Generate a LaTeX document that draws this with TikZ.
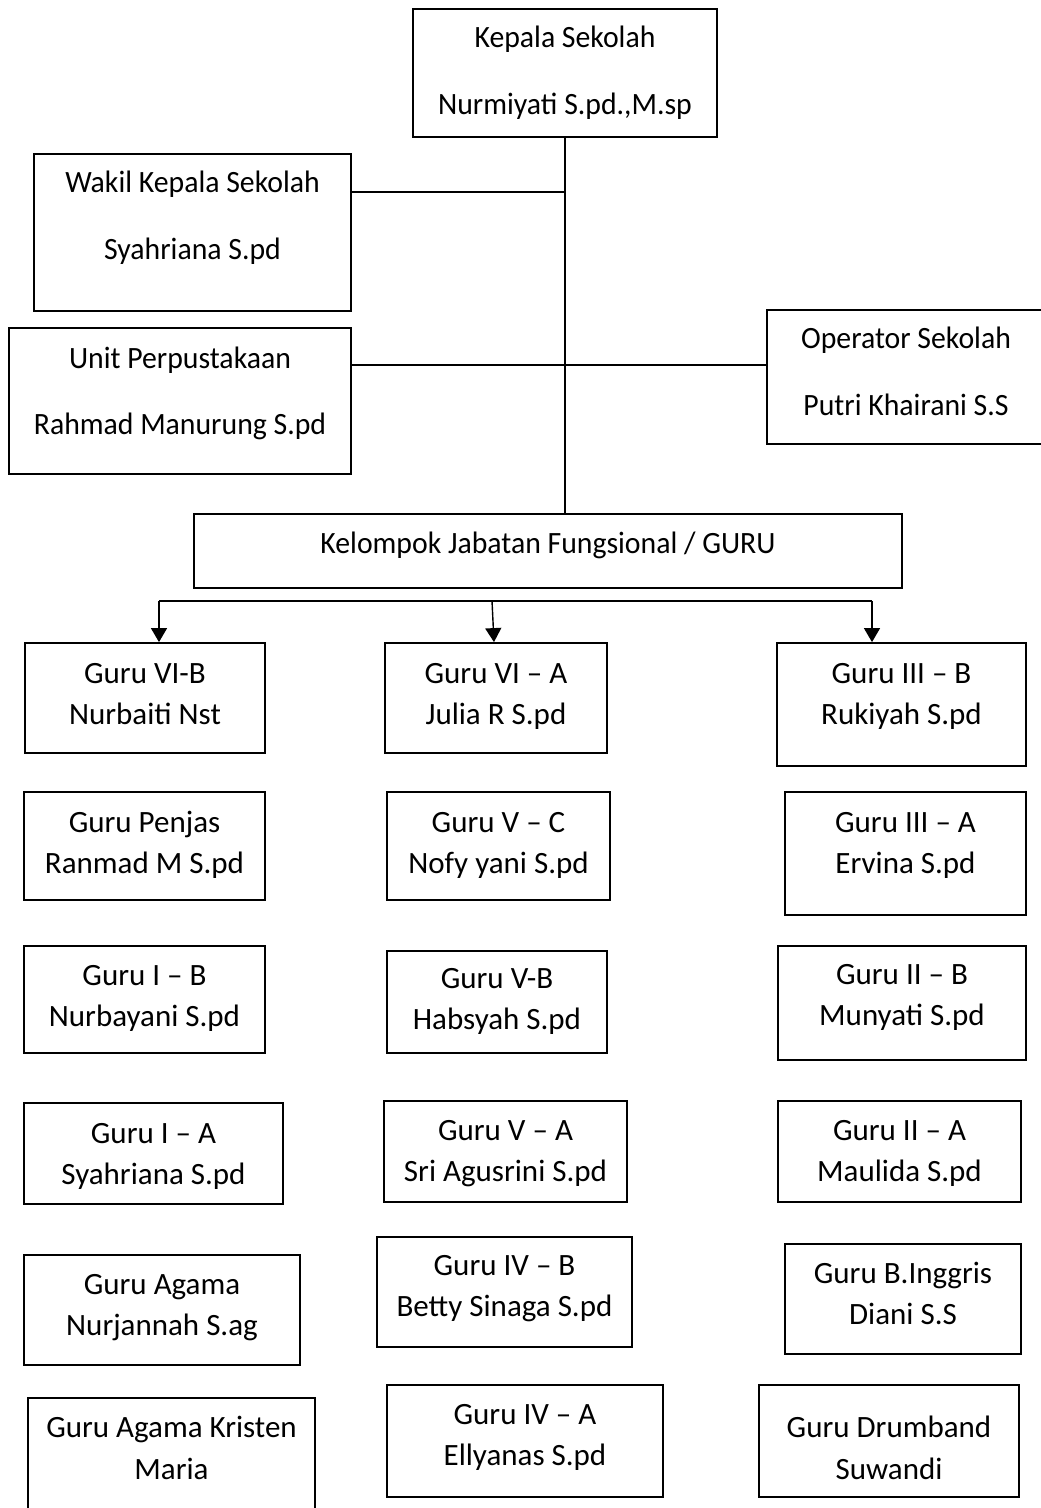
\documentclass[tikz,border=0pt]{standalone}
\usepackage{fontspec}
\setmainfont{Carlito}
\newfontfamily\sempit[FakeStretch=0.96]{Carlito}
\usetikzlibrary{arrows.meta,fit}
\def\jabatan(#1)(#2,#3)(#4,#5)[#6:#7]#8#9{\node[kotak, fit={(#2,#3) (#4,#5)}] (#1) {};
  \node[teks] (#1-a) at ({(#2+#4)/2}, #6) {#8};
  \node[teks] (#1-b) at ({(#2+#4)/2}, {#6+#7}) {#9};}

\begin{document}
\begin{tikzpicture}[x=0.5pt, y=-0.5pt,
    kotak/.style={draw, line width=0.9pt, inner sep=0pt},
    teks/.style={anchor=base, inner sep=0pt, font=\fontsize{15.5}{19}\selectfont},
    garis/.style={line width=0.7pt},
    garis tebal/.style={line width=1.2pt},
    panah/.style={garis, -{Triangle[width=8pt,length=7pt]}}]
		\useasboundingbox (0,0) rectangle (1040,1508);
		%%%%% PIMPINAN %%%%%
		
		\jabatan(kepsek)(413,9)(717,137)[48:67]{\sempit Kepala Sekolah}{\sempit Nurmiyati S.pd.,M.sp}
		\jabatan(wakil)(34,154)(351,311)[193:67]{\sempit Wakil Kepala Sekolah}{\sempit Syahriana S.pd}
		\jabatan(unit)(9,328)(351,474)[368:66]{\sempit Unit Perpustakaan}{\sempit Rahmad Manurung S.pd}
		\jabatan(operator)(767,310)(1045,444)[349:66]{\sempit Operator Sekolah}{\sempit Putri Khairani S.S}
		
		\node[kotak, fit={(194,514) (902,588)}] (kjf) {};
		\node[teks] (kjf-a) at (548,553) {\sempit Kelompok Jabatan Fungsional / GURU};
		
		\draw[garis] (kepsek.south) -- (kepsek.south |- kjf.north);
		\coordinate (cab-wakil) at (565,192);
		\draw[garis] (wakil.east |- cab-wakil) -- (cab-wakil);
		\coordinate (cab-unit) at (565,365);
		\draw[garis tebal] (unit.east |- cab-unit) -- (operator.west |- cab-unit);
		
		%%%%% GURU %%%%%
		
		\jabatan(g11)(25,643)(265,753)[683:41]{Guru VI-B}{Nurbaiti Nst}
		\jabatan(g12)(24,792)(265,900)[832:41]{Guru Penjas}{Ranmad M S.pd}
		\jabatan(g13)(24,946)(265,1053)[985:41]{Guru I -- B}{Nurbayani S.pd}
		\jabatan(g14)(24,1103)(283,1204)[1143:41]{Guru I -- A}{Syahriana S.pd}
		\jabatan(g15)(24,1255)(300,1365)[1294:41]{Guru Agama}{Nurjannah S.ag}
		\jabatan(g16)(28,1398)(315,1520)[1437:42]{Guru Agama Kristen}{Maria}
		
		\jabatan(g21)(385,643)(607,753)[683:41]{Guru VI -- A}{Julia R S.pd}
		\jabatan(g22)(387,792)(610,900)[832:41]{Guru V -- C}{Nofy yani S.pd}
		\jabatan(g23)(387,951)(607,1053)[988:41]{Guru V-B}{Habsyah S.pd}
		\jabatan(g24)(384,1101)(627,1202)[1140:41]{Guru V -- A}{Sri Agusrini S.pd}
		\jabatan(g25)(377,1237)(632,1347)[1275:41]{Guru IV -- B}{Betty Sinaga S.pd}
		\jabatan(g26)(387,1385)(663,1497)[1424:41]{Guru IV -- A}{Ellyanas S.pd}
		
		\jabatan(g31)(777,643)(1026,766)[683:41]{Guru III -- B}{Rukiyah S.pd}
		\jabatan(g32)(785,792)(1026,915)[832:41]{Guru III -- A}{Ervina S.pd}
		\jabatan(g33)(778,946)(1026,1060)[984:41]{Guru II -- B}{Munyati S.pd}
		\jabatan(g34)(778,1101)(1021,1202)[1140:41]{Guru II -- A}{Maulida S.pd}
		\jabatan(g35)(785,1244)(1021,1354)[1283:41]{Guru B.Inggris}{Diani S.S}
		\jabatan(g36)(759,1385)(1019,1497)[1437:42]{Guru Drumband}{Suwandi}
		
		\coordinate (bar-kiri) at (159,601);
		\coordinate (bar-tengah) at (492,601);
		\coordinate (bar-kanan) at (872,601);
		\draw[garis] (bar-kiri) -- (bar-kanan);
		\draw[panah] (bar-kiri) -- (bar-kiri |- g11.north);
		\draw[panah] (bar-tengah) -- ([xshift=1pt]bar-tengah |- g21.north);
		\draw[panah] (bar-kanan) -- (bar-kanan |- g31.north);
		
		%%%%% END %%%%%
\end{tikzpicture}
\end{document}
